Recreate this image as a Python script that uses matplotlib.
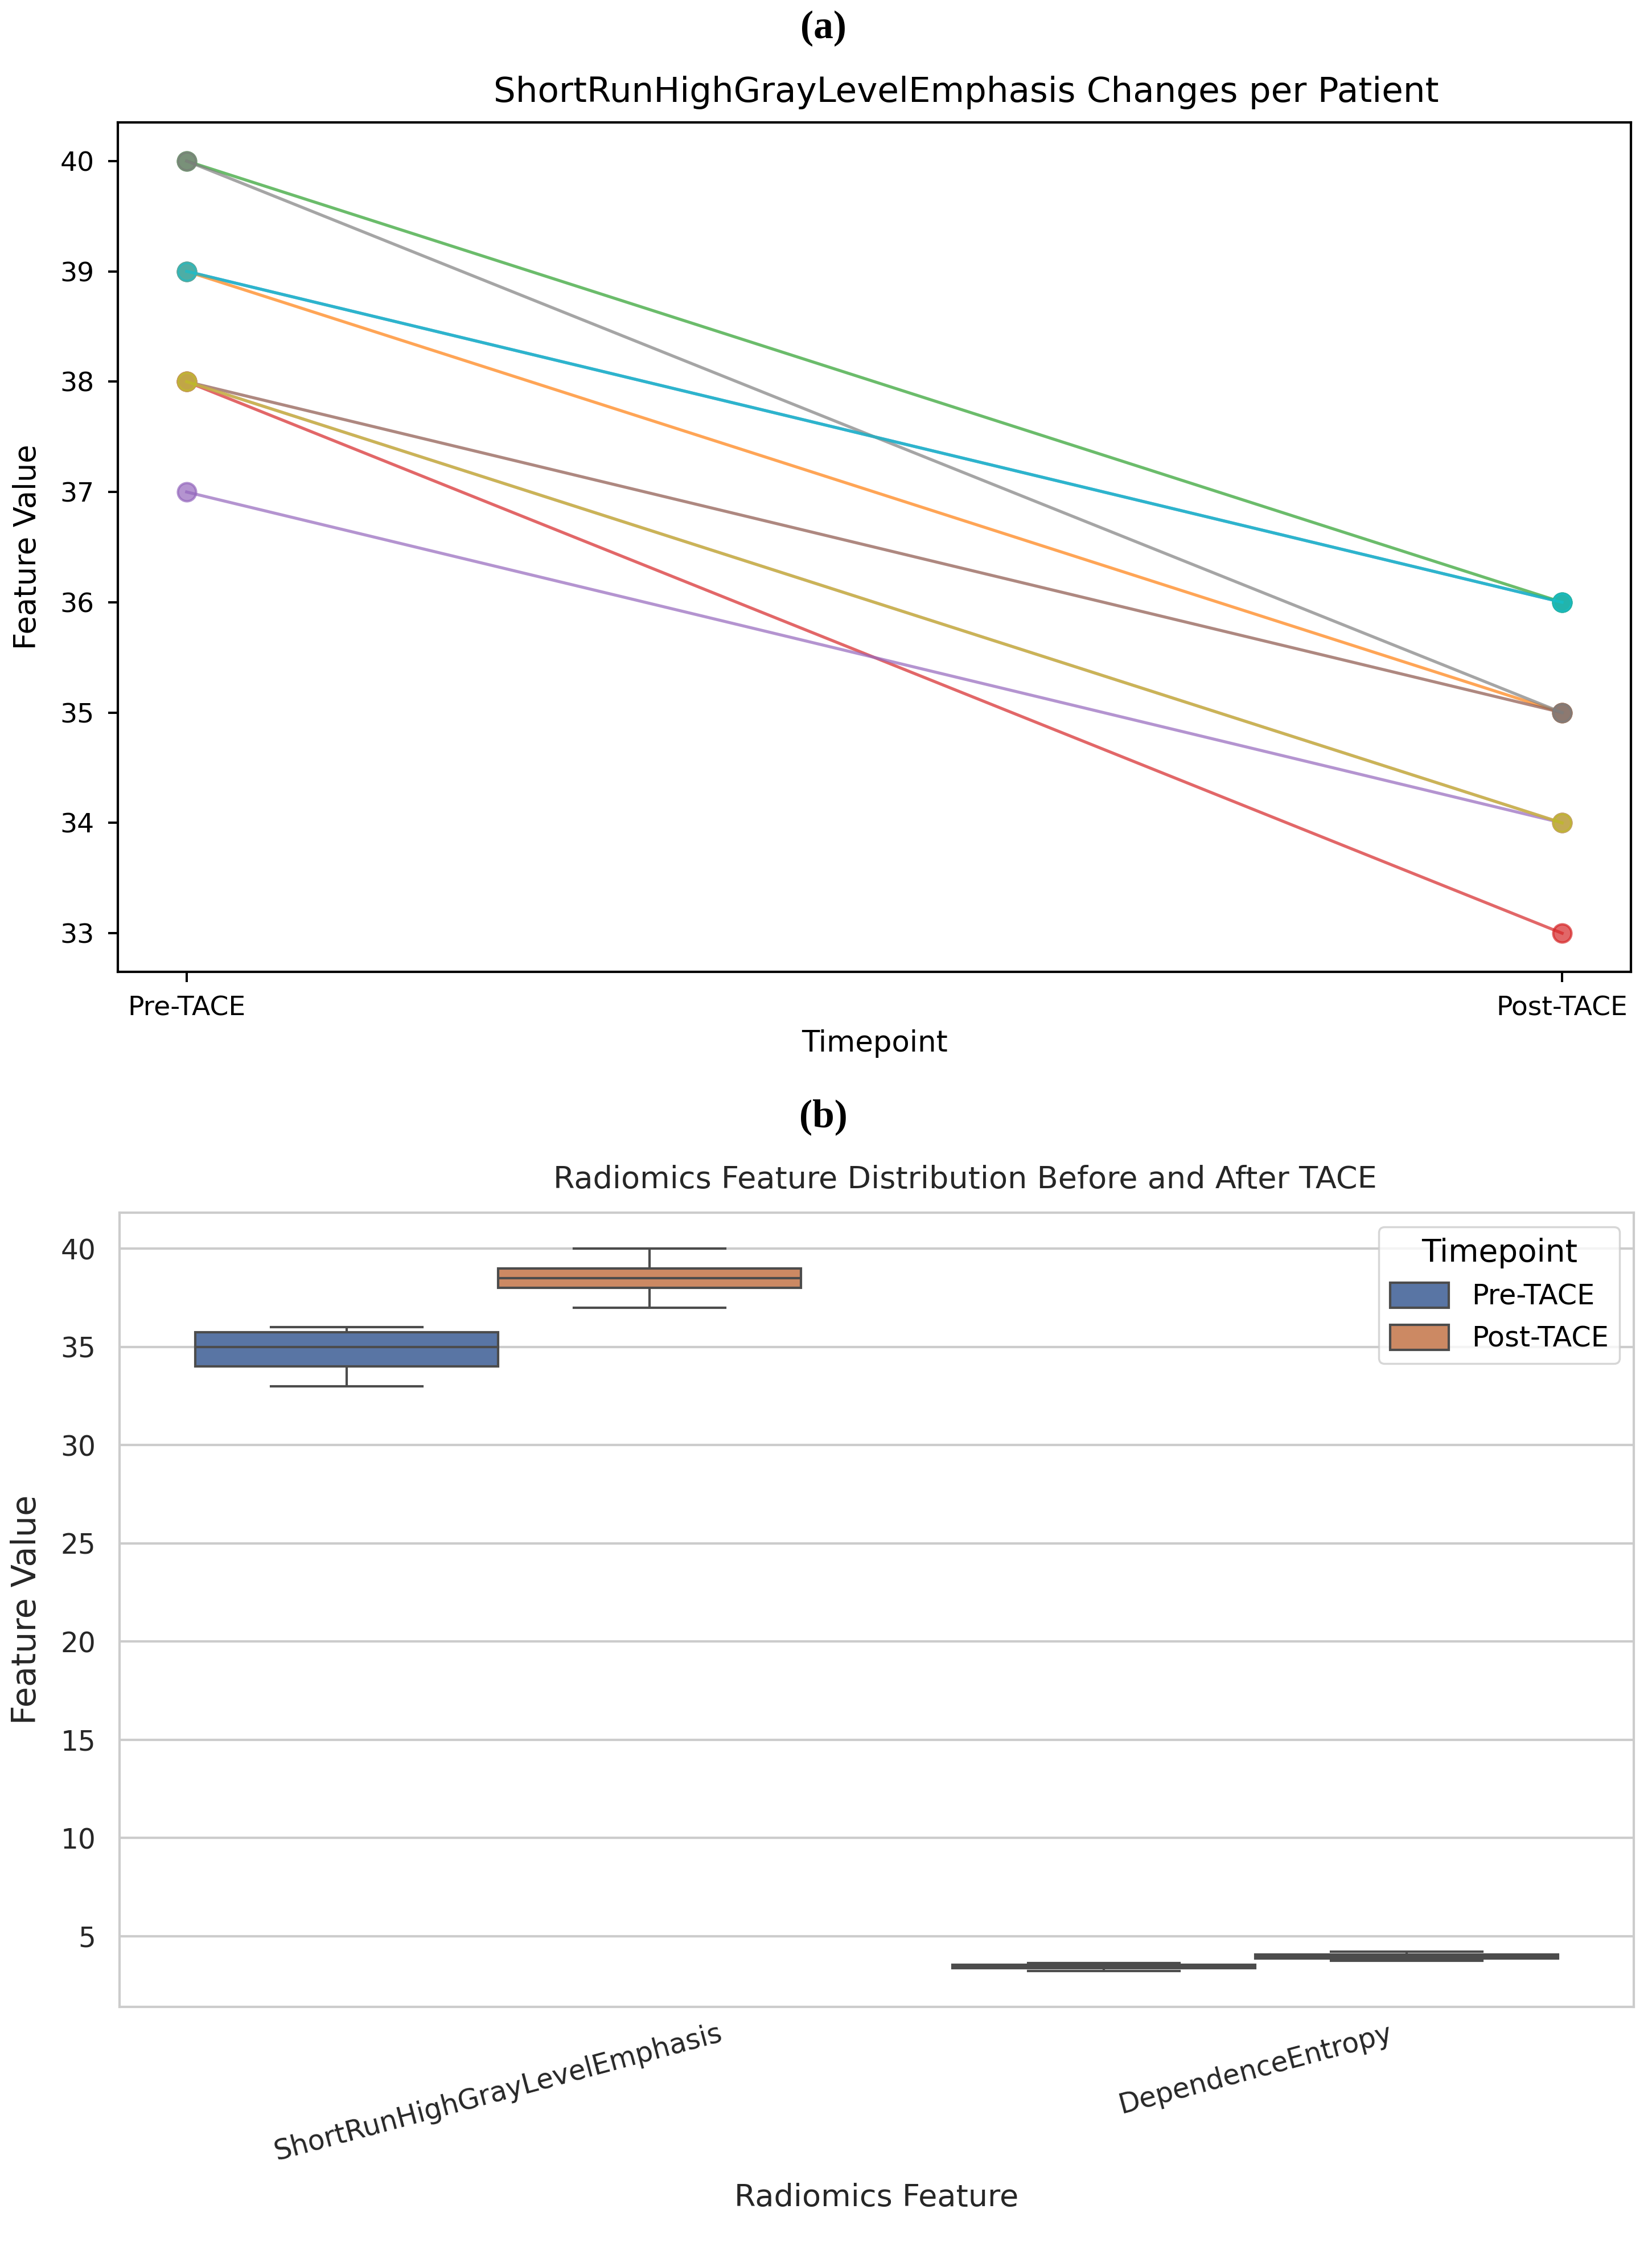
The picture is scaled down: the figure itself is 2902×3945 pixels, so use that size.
import matplotlib
matplotlib.use("Agg")
import matplotlib.pyplot as plt
import numpy as np
import pandas as pd
import seaborn as sns

# ---------------- data ----------------
timepoints = ["Pre-TACE", "Post-TACE"]
# panel (a): per-patient ShortRunHighGrayLevelEmphasis (pre, post)
patient_pre = [39, 39, 40, 38, 37, 38, 38, 40, 38, 39]
patient_post = [36, 35, 36, 33, 34, 35, 34, 35, 34, 36]

# panel (b): box plot data
features = ["ShortRunHighGrayLevelEmphasis", "DependenceEntropy"]
box_srhgle_pre = [36, 35, 36, 33, 34, 35, 34, 35, 34, 36]
box_srhgle_post = [39, 39, 40, 38, 37, 38, 38, 40, 38, 39]
box_de_pre = [3.23, 3.30, 3.34, 3.38, 3.42, 3.44, 3.50, 3.54, 3.58, 3.63]
box_de_post = [3.73, 3.80, 3.84, 3.90, 3.94, 3.98, 4.04, 4.08, 4.13, 4.19]

W, H = 2902, 3945
DPI = 100
fig = plt.figure(figsize=(W / DPI, H / DPI), dpi=DPI)

# ---------------- panel (a) ----------------
axA = fig.add_axes([207 / W, 1 - 1707 / H, (2865 - 207) / W, (1707 - 215) / H])
tab10 = plt.get_cmap("tab10").colors
xs = np.arange(len(timepoints))
for i, (p0, p1) in enumerate(zip(patient_pre, patient_post)):
    axA.plot(xs, [p0, p1], marker="o", color=tab10[i % 10], alpha=0.7,
             lw=3.8, ms=23, mew=3)
axA.set_xticks(xs)
axA.set_xticklabels(timepoints)
for s in axA.spines.values():
    s.set_linewidth(3.0)
    s.set_color("black")
axA.tick_params(axis="both", labelsize=34, length=12.6, width=2.9, pad=17)
axA.set_xlabel("Timepoint", fontsize=37)
axA.set_ylabel("Feature Value", fontsize=38)
axA.xaxis.set_label_coords(0.5, -0.0845)
axA.xaxis.label.set_va("center")
axA.yaxis.set_label_coords(-0.0598, 0.5)
axA.yaxis.label.set_va("center")
fig.text(1697 / W, 1 - 163 / H, "ShortRunHighGrayLevelEmphasis Changes per Patient",
         fontsize=44, ha="center", va="center")

# ---------------- panel (b) ----------------
rows = []
for feat, pre, post in [(features[0], box_srhgle_pre, box_srhgle_post),
                        (features[1], box_de_pre, box_de_post)]:
    for v in pre:
        rows.append((feat, timepoints[0], v))
    for v in post:
        rows.append((feat, timepoints[1], v))
df = pd.DataFrame(rows, columns=["Radiomics Feature", "Timepoint", "Feature Value"])

axB = fig.add_axes([210 / W, 1 - 3525 / H, (2870 - 210) / W, (3525 - 2130) / H])
axB.set_facecolor("white")
sns.boxplot(data=df, x="Radiomics Feature", y="Feature Value", hue="Timepoint",
            palette="deep", ax=axB, linewidth=3.0)
axB.grid(True, axis="y", color="#cccccc", lw=3.0)
axB.grid(False, axis="x")
axB.set_axisbelow(True)
for s in axB.spines.values():
    s.set_linewidth(3.0)
    s.set_color("#cccccc")
axB.tick_params(axis="both", labelsize=35, length=0, colors="#262626")
axB.tick_params(axis="y", pad=30)
axB.tick_params(axis="x", pad=16)
for lab in axB.get_xticklabels():
    lab.set_rotation(15)
    lab.set_ha("center")
axB.set_yticks([5, 10, 15, 20, 25, 30, 35, 40])
axB.set_xlabel("Radiomics Feature", fontsize=39, color="#262626")
axB.set_ylabel("Feature Value", fontsize=42.5, color="#262626")
axB.xaxis.set_label_coords(0.5, -0.2400)
axB.xaxis.label.set_va("center")
axB.yaxis.set_label_coords(-0.0613, 0.5)
axB.yaxis.label.set_va("center")
leg = axB.legend(title="Timepoint", loc="upper right", fontsize=35.5,
                 title_fontsize=39.5, frameon=True, borderaxespad=0.5,
                 handlelength=2.1, handleheight=1.0)
leg.get_frame().set_edgecolor("#cccccc")
leg.get_frame().set_linewidth(2.5)
fig.text(1695 / W, 1 - 2072 / H, "Radiomics Feature Distribution Before and After TACE",
         fontsize=39, ha="center", va="center", color="#262626")

# ---------------- panel letters ----------------
fig.text(1446 / W, 1 - 50 / H, "(a)", fontsize=50, fontweight="bold",
         family="Liberation Serif", ha="center", va="center")
fig.text(1446 / W, 1 - 1962 / H, "(b)", fontsize=50, fontweight="bold",
         family="Liberation Serif", ha="center", va="center")

fig.savefig("out.png", dpi=DPI, facecolor="white")
